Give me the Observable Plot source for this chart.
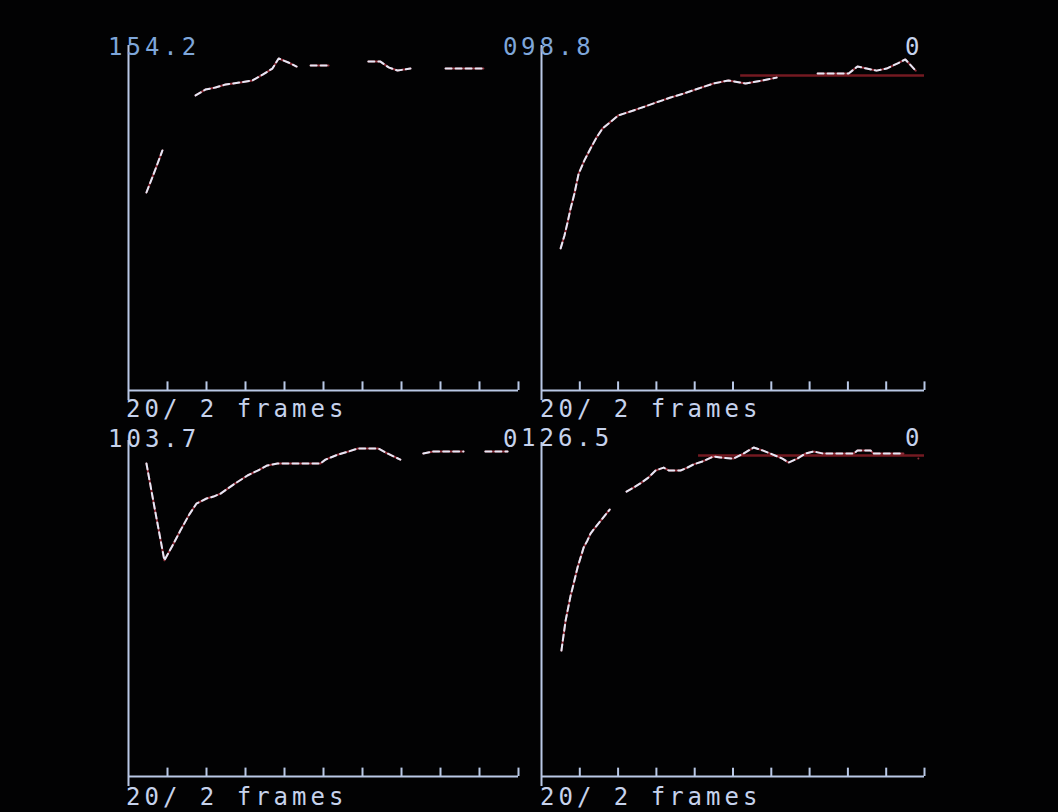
<!DOCTYPE html>
<html><head><meta charset="utf-8">
<script src="https://cdn.jsdelivr.net/npm/d3@7"></script>
<script src="https://cdn.jsdelivr.net/npm/@observablehq/plot@0.6"></script>
<style>
html,body{margin:0;padding:0;background:#020203;}
#stage{position:relative;width:1058px;height:812px;overflow:hidden;background:#020203;}
#stage svg{position:absolute;left:0;top:0;background:transparent;}
.lbl{position:absolute;font-family:"DejaVu Sans Mono",monospace;font-size:24px;line-height:24px;letter-spacing:4px;white-space:pre;}
</style></head><body><div id="stage"></div>
<script>
// ---- data (frames on x, measured value on y; null = trace not visible) ----
const tickFrames = [1,2,3,4,5,6,7,8,9,10];

const tlFrames = [0.46,0.67,0.87,1.30,1.72,1.97,2.23,2.49,2.87,3.18,3.44,3.69,3.85,4.10,4.31,4.50,4.67,5.13,5.60,6.15,6.46,6.67,6.90,7.23,7.70,8.13,9.10];
const tlValues = [88.5,97.9,107.3,null,131.9,134.5,135.4,136.8,137.7,138.6,141.2,143.9,148.4,146.6,144.8,null,145.3,145.3,null,147.0,147.0,144.4,143.0,143.9,null,143.9,143.9];

const trFrames = [0.50,0.60,0.68,0.76,0.86,0.97,1.12,1.28,1.44,1.59,2.01,2.32,2.69,3.00,3.37,3.73,4.10,4.49,4.88,5.33,5.77,6.14,6.60,7.21,7.60,8.02,8.25,8.49,8.75,9.01,9.30,9.50,9.77];
const trValues = [40.7,44.4,48.1,52.1,56.4,62.1,65.9,69.3,72.5,75.0,78.8,79.9,81.3,82.5,83.9,85.1,86.5,87.9,88.8,87.9,88.8,89.6,null,90.8,90.8,90.8,92.8,92.2,91.6,92.2,93.7,94.8,91.6];

const blFrames = [0.46,0.69,0.92,1.13,1.33,1.56,1.74,2.00,2.18,2.36,2.69,3.05,3.31,3.56,3.82,4.36,4.92,5.05,5.38,5.64,5.87,6.41,6.59,6.97,7.30,7.56,7.82,8.59,8.90,9.15,9.72];
const blValues = [96.6,81.5,66.7,71.3,75.9,80.9,84.2,85.8,86.4,87.3,90.1,92.9,94.4,96.0,96.6,96.6,96.6,97.8,99.4,100.3,101.2,101.2,100.0,97.8,null,99.7,100.3,100.3,null,100.3,100.3];

const brFrames = [0.52,0.63,0.76,0.84,0.94,1.02,1.10,1.20,1.28,1.38,1.59,1.78,2.00,2.22,2.40,2.58,2.79,2.98,3.19,3.32,3.63,3.81,3.97,4.20,4.49,4.67,5.01,5.27,5.54,5.77,5.98,6.29,6.45,6.68,6.89,7.10,7.36,8.15,8.25,8.59,8.67,9.45,9.60,9.84];
const brValues = [47.7,59.1,68.5,73.1,79.1,82.9,86.7,89.4,92.0,93.9,97.7,101.1,null,107.9,109.4,111.0,113.2,115.9,117.0,115.9,115.9,117.0,118.2,119.3,121.2,120.8,120.4,122.3,124.6,123.5,122.3,120.4,118.9,120.4,122.3,123.1,122.3,122.3,123.5,123.5,122.3,122.3,null,120.4];

const maxLabels = ["154.2","98.8","103.7","126.5"];
const maxValues = [154.2,98.8,103.7,126.5];
const zeroLabel = "0";
const xLabel = "20/ 2 frames";
const refLevels = [null, 90.2, null, 121.6];
const refStart = [null, 5.2, null, 4.1];

// ---- layout ----
const W = 1058, H = 812;
const frames = [tlFrames, trFrames, blFrames, brFrames];
const values = [tlValues, trValues, blValues, brValues];
const boxes = [
  {l:128, r:518, t:45,  b:390},
  {l:541, r:924, t:45,  b:390},
  {l:128, r:518, t:440, b:776},
  {l:541, r:924, t:442, b:776}
];
const axisColor = "#b9c8e6";
const stage = document.getElementById("stage");

boxes.forEach((bx, i) => {
  const ymax = maxValues[i];
  const pts = frames[i].map((f, j) => ({frame: f, value: values[i][j]}));
  const marks = [];
  if (refLevels[i] != null) {
    marks.push(Plot.ruleY([refLevels[i]], {x1: refStart[i], x2: 10, stroke: "#741a22", strokeWidth: 2.5}));
  }
  marks.push(
    Plot.ruleY([0], {stroke: axisColor, strokeWidth: 2}),
    Plot.ruleX([0], {y1: 0, y2: ymax, insetTop: 10, stroke: axisColor, strokeWidth: 2}),
    Plot.ruleX(tickFrames, {x: d => d, y1: 0, y2: ymax * 0.025, stroke: axisColor, strokeWidth: 2}),
    Plot.line(pts, {x: "frame", y: "value", stroke: "#c2404f", strokeWidth: 2, strokeOpacity: 0.75, curve: "linear"}),
    Plot.line(pts, {x: "frame", y: "value", stroke: "#e4e8f6", strokeWidth: 2, strokeDasharray: "6,4", curve: "linear"})
  );
  const svg = Plot.plot({
    width: W, height: H,
    marginLeft: bx.l, marginRight: W - bx.r, marginTop: bx.t, marginBottom: H - bx.b,
    x: {domain: [0, 10], axis: null},
    y: {domain: [0, ymax], axis: null},
    style: {background: "transparent"},
    marks
  });
  stage.appendChild(svg);
});

// ---- text labels ----
function label(text, left, capTop, color) {
  const d = document.createElement("div");
  d.className = "lbl";
  d.textContent = text;
  d.style.left = left + "px";
  d.style.top = (capTop - 3) + "px";
  d.style.color = color;
  stage.appendChild(d);
}
const blue = "#7ea6da", pale = "#c6d2ec";
label(maxLabels[0], 108, 38, blue);
label(zeroLabel, 503, 38, blue);
label(maxLabels[1], 521, 38, blue);
label(zeroLabel, 905, 38, pale);
label(xLabel, 126, 400, pale);
label(xLabel, 540, 400, pale);
label(maxLabels[2], 108, 430, pale);
label(zeroLabel, 503, 430, pale);
label(maxLabels[3], 521, 429, pale);
label(zeroLabel, 905, 429, pale);
label(xLabel, 126, 788, pale);
label(xLabel, 540, 788, pale);
</script></body></html>
